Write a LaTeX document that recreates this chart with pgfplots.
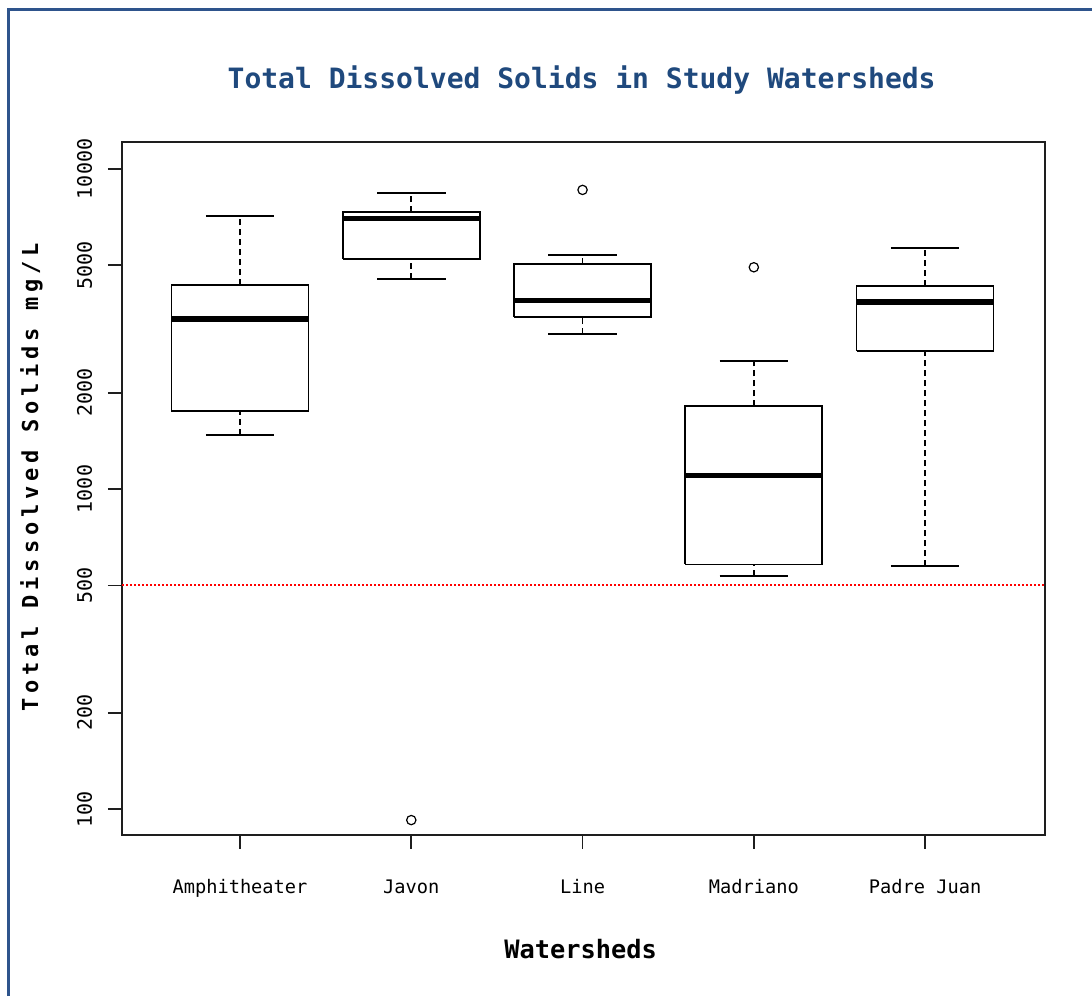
\documentclass[border=0pt]{standalone}
\usepackage{pgfplots}
\pgfplotsset{compat=1.18}
\usepackage{fontspec}
\setmainfont{DejaVu Sans Mono}
\definecolor{titleblue}{RGB}{31,73,125}
\definecolor{framecol}{RGB}{46,84,140}
\definecolor{axcol}{RGB}{30,30,30}
\begin{document}
\begin{tikzpicture}[x=1pt,y=1pt]
\useasboundingbox (0,0) rectangle (819,747);
\fill[white] (0,0) rectangle (819,747);
\draw[framecol, line width=2.25pt] (6,0) -- (6,739.5) -- (819,739.5);
\begin{axis}[
  at={(91.5pt,120.75pt)}, anchor=south west,
  scale only axis, width=692.25pt, height=519.75pt,
  ymode=log, ymin=83, ymax=12140, xmin=0.311, xmax=5.70,
  unbounded coords=jump,
  axis line style={axcol, line width=1.3pt},
  tick style={axcol, line width=1.3pt},
  major tick length=10.5pt,
  tick align=outside, tick pos=left,
  xtick={1,2,3,4,5},
  xticklabels={Amphitheater,Javon,Line,Madriano,Padre Juan},
  ytick={100,200,500,1000,2000,5000,10000},
  yticklabels={100,200,500,1000,2000,5000,10000},
  yminorticks=false, xminorticks=false,
  xticklabel style={font=\fontsize{14}{14}\selectfont, anchor=base, yshift=-33.5pt},
  yticklabel style={xshift=-12pt, rotate=90, anchor=base, font=\fontsize{15}{15}\selectfont},
  title={Total Dissolved Solids in Study Watersheds},
  every axis title/.style={at={(rel axis cs:0.498,1.077)}, anchor=base, font=\bfseries\fontsize{21}{21}\selectfont, text=titleblue},
  xlabel={Watersheds},
  every axis x label/.style={at={(rel axis cs:0.497,-0.178)}, anchor=base, font=\bfseries\fontsize{19}{19}\selectfont},
  ylabel={Total Dissolved Solids mg/L},
  every axis y label/.style={at={(rel axis cs:-0.091,0.516)}, rotate=90, anchor=base, font=\bfseries\fontsize{16.5}{16.5}\selectfont\addfontfeature{LetterSpace=22}},
]
% reference line at 500 mg/L
\addplot[red, line width=1.5pt, dash pattern=on 1.5pt off 1.5pt] coordinates {(0.311,500) (5.70,500)};
% whiskers (dashed)
\addplot[black, line width=1.3pt, dash pattern=on 4.5pt off 3pt] coordinates {
 (1,1475) (1,1753) (nan,nan) (1,4330) (1,7129) (nan,nan)
 (2,4541) (2,5245) (nan,nan) (2,7336) (2,8395) (nan,nan)
 (3,3050) (3,3447) (nan,nan) (3,5058) (3,5387) (nan,nan)
 (4,535) (4,581) (nan,nan) (4,1813) (4,2512) (nan,nan)
 (5,574) (5,2700) (nan,nan) (5,4309) (5,5650)};
% whisker caps
\addplot[black, line width=1.3pt] coordinates {
 (0.8,1475) (1.2,1475) (nan,nan) (0.8,7129) (1.2,7129) (nan,nan)
 (1.8,4541) (2.2,4541) (nan,nan) (1.8,8395) (2.2,8395) (nan,nan)
 (2.8,3050) (3.2,3050) (nan,nan) (2.8,5387) (3.2,5387) (nan,nan)
 (3.8,535) (4.2,535) (nan,nan) (3.8,2512) (4.2,2512) (nan,nan)
 (4.8,574) (5.2,574) (nan,nan) (4.8,5650) (5.2,5650)};
% boxes (Q1 to Q3)
\addplot[black, line width=1.3pt, line join=miter] coordinates {
 (0.6,1753) (1.4,1753) (1.4,4330) (0.6,4330) (0.6,1753) (nan,nan)
 (1.6,5245) (2.4,5245) (2.4,7336) (1.6,7336) (1.6,5245) (nan,nan)
 (2.6,3447) (3.4,3447) (3.4,5058) (2.6,5058) (2.6,3447) (nan,nan)
 (3.6,581) (4.4,581) (4.4,1813) (3.6,1813) (3.6,581) (nan,nan)
 (4.6,2700) (5.4,2700) (5.4,4309) (4.6,4309) (4.6,2700)};
% medians
\addplot[black, line width=4pt] coordinates {
 (0.6,3398) (1.4,3398) (nan,nan)
 (1.6,6994) (2.4,6994) (nan,nan)
 (2.6,3888) (3.4,3888) (nan,nan)
 (3.6,1101) (4.4,1101) (nan,nan)
 (4.6,3840) (5.4,3840)};
% outliers
\addplot[only marks, mark=o, mark size=3.5pt, mark options={black, line width=0.9pt, solid}] coordinates {
 (2,92.4) (3,8600) (4,4929)};
\end{axis}
\end{tikzpicture}
\end{document}
